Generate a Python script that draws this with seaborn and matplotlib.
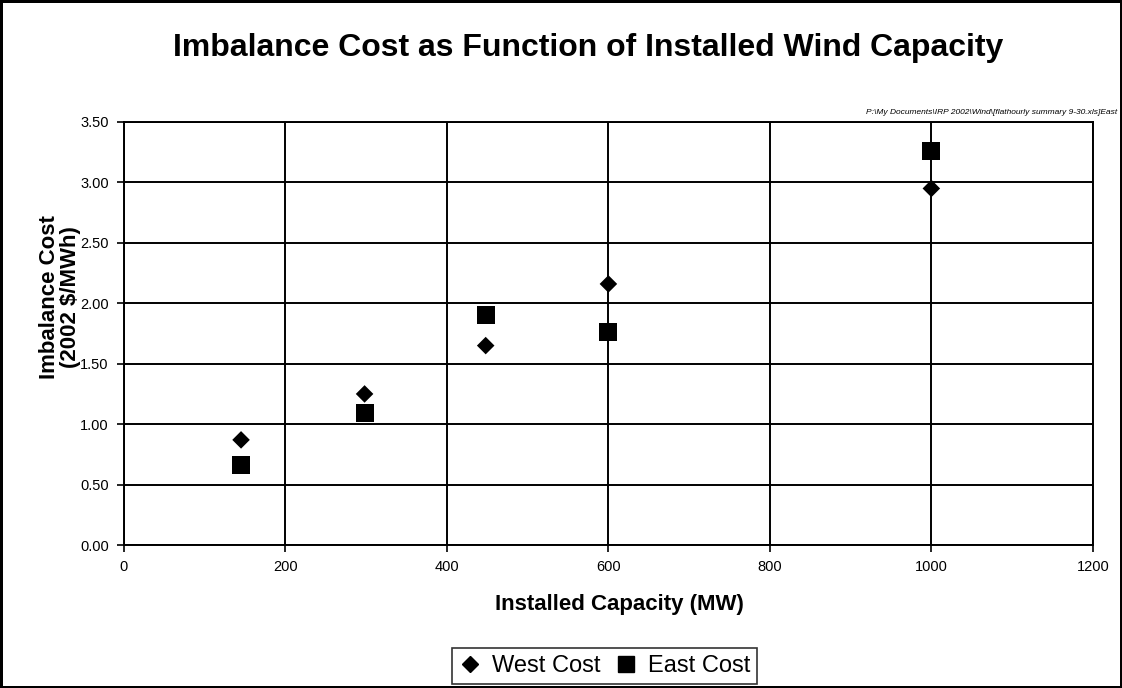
import pandas as pd
import matplotlib.pyplot as plt
import seaborn as sns

# values
capacity = [145, 298, 448, 600, 1000]
west_cost = [0.87, 1.25, 1.65, 2.16, 2.95]
east_cost = [0.66, 1.09, 1.90, 1.76, 3.26]
series_names = ["West Cost", "East Cost"]
x_ticks = [0, 200, 400, 600, 800, 1000, 1200]
y_ticks = [0.0, 0.5, 1.0, 1.5, 2.0, 2.5, 3.0, 3.5]

df = pd.DataFrame({
    "Capacity": capacity * 2,
    "Cost": west_cost + east_cost,
    "Series": [series_names[0]] * len(capacity) + [series_names[1]] * len(capacity),
})

sns.set_style("white")
plt.rcParams["font.family"] = ["Liberation Sans", "DejaVu Sans"]
plt.rcParams["text.color"] = "black"
plt.rcParams["axes.labelcolor"] = "black"
plt.rcParams["xtick.color"] = "black"
plt.rcParams["ytick.color"] = "black"

fig = plt.figure(figsize=(11.22, 6.88), dpi=100)
ax = fig.add_axes([0.1105, 0.2078, 0.8635, 0.6149])

sns.scatterplot(data=df, x="Capacity", y="Cost", hue="Series", style="Series",
                palette={"West Cost": "black", "East Cost": "black"},
                markers={"West Cost": "D", "East Cost": "s"},
                size="Series", sizes={"West Cost": 80, "East Cost": 170},
                edgecolor="none", ax=ax, zorder=3, legend=False)

ax.set_xlim(0, 1200)
ax.set_ylim(0, 3.5)
ax.set_xticks(x_ticks)
ax.set_yticks(y_ticks)
ax.set_yticklabels([f"{v:.2f}" for v in y_ticks])
ax.tick_params(axis="both", labelsize=10.5, direction="out", length=5,
               width=1.2, color="black", pad=6, bottom=True, left=True)
ax.grid(True, color="black", linewidth=1.4)
ax.set_axisbelow(True)
for s in ax.spines.values():
    s.set_color("black")
    s.set_linewidth(1.4)

ax.set_xlabel("Installed Capacity (MW)", fontsize=16, fontweight="bold")
ax.set_ylabel("Imbalance Cost\n(2002 $/MWh)", fontsize=16, fontweight="bold",
              linespacing=1.0)
ax.xaxis.set_label_coords(0.511, -0.115)
ax.yaxis.set_label_coords(-0.044, 0.585)

fig.text(0.524, 1 - 48 / 688, "Imbalance Cost as Function of Installed Wind Capacity",
         ha="center", va="center", fontsize=23, fontweight="bold")
fig.text(0.996, 1 - 113 / 688,
         r"P:\My Documents\IRP 2002\Wind\[flathourly summary 9-30.xls]East",
         ha="right", va="center", fontsize=6, style="italic")

handles = [
    plt.Line2D([], [], marker="D", color="black", linestyle="none", markersize=8.5),
    plt.Line2D([], [], marker="s", color="black", linestyle="none", markersize=12),
]
leg = fig.legend(handles, series_names, loc="center",
                 bbox_to_anchor=(0.539, 1 - 666 / 688),
                 ncol=2, fontsize=17, frameon=True, fancybox=False, edgecolor="black",
                 handlelength=0.9, handletextpad=0.5, columnspacing=0.6,
                 borderpad=0.3)
leg.get_frame().set_linewidth(1.2)

fig.patch.set_edgecolor("black")
fig.patch.set_linewidth(2.5)
fig.savefig("out.png", dpi=100, edgecolor="black")
